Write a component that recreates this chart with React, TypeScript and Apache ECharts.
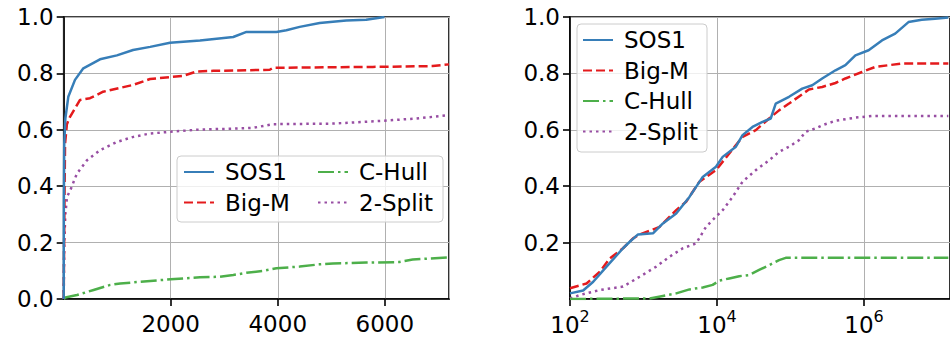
import React, { useEffect, useRef } from "react";
import * as echarts from "echarts";

const FONT = "'DejaVu Sans', sans-serif";
const seriesNames = ["SOS1", "Big-M", "C-Hull", "2-Split"];
const colors = ["#377eb8", "#e41a1c", "#4daf4a", "#984ea3"];

// Left panel: linear time axis
const linSOS1: [number, number][] = [
  [0, 0], [3, 0.35], [10, 0.55], [31, 0.64], [86, 0.717], [211, 0.777], [367, 0.818], [678, 0.85],
  [994, 0.864], [1296, 0.883], [1615, 0.894], [1987, 0.909], [2547, 0.917], [3168, 0.929],
  [3416, 0.947], [3975, 0.947], [4161, 0.953], [4410, 0.965], [4783, 0.979], [5280, 0.988],
  [5652, 0.99], [5994, 1.0],
];
const linBigM: [number, number][] = [
  [0, 0], [12, 0.3], [25, 0.55], [60, 0.62], [118, 0.646], [305, 0.706], [492, 0.712], [737, 0.735],
  [1296, 0.759], [1614, 0.78], [1987, 0.787], [2230, 0.791], [2486, 0.807], [2795, 0.809],
  [3168, 0.81], [3851, 0.813], [3913, 0.82], [5776, 0.823], [6894, 0.826], [7200, 0.832],
];
const linCHull: [number, number][] = [
  [0, 0], [31, 0.005], [248, 0.014], [559, 0.032], [870, 0.05], [1056, 0.055], [1429, 0.061],
  [2000, 0.07], [2547, 0.077], [2919, 0.079], [3168, 0.085], [3416, 0.093], [3727, 0.1],
  [3975, 0.109], [4410, 0.115], [4783, 0.123], [5031, 0.126], [5652, 0.129], [6273, 0.131],
  [6522, 0.14], [7200, 0.148],
];
const lin2Split: [number, number][] = [
  [0, 0], [10, 0.2], [31, 0.3], [62, 0.362], [124, 0.386], [248, 0.445], [435, 0.492], [683, 0.528],
  [994, 0.557], [1304, 0.575], [1615, 0.587], [2000, 0.593], [2547, 0.601], [3168, 0.604],
  [3540, 0.607], [3913, 0.62], [5031, 0.622], [5963, 0.632], [6584, 0.64], [7200, 0.652],
];

// Right panel: logarithmic axis
const logSOS1: [number, number][] = [
  [100, 0.02], [151, 0.03], [207, 0.061], [314, 0.115], [527, 0.18], [650, 0.203], [843, 0.229],
  [1346, 0.233], [1837, 0.268], [2786, 0.303], [4217, 0.362], [6397, 0.433], [9683, 0.469],
  [11940, 0.504], [18070, 0.54], [22280, 0.581], [30410, 0.61], [41590, 0.628], [53830, 0.64],
  [62950, 0.693], [95500, 0.717], [144500, 0.746], [197700, 0.758], [269800, 0.782],
  [409300, 0.811], [558500, 0.829], [763800, 0.864], [1156000, 0.882], [1754000, 0.917],
  [2655000, 0.941], [4027000, 0.982], [6109000, 0.99], [9247000, 0.994], [14030000, 0.998],
];
const logBigM: [number, number][] = [
  [100, 0.038], [168, 0.055], [255, 0.097], [348, 0.144], [527, 0.18], [721, 0.215], [888, 0.229],
  [1213, 0.242], [1656, 0.256], [2786, 0.315], [3802, 0.345], [5768, 0.416], [9683, 0.457],
  [14690, 0.516], [22280, 0.575], [33730, 0.599], [51170, 0.64], [69820, 0.669], [95500, 0.693],
  [178200, 0.743], [269800, 0.752], [409300, 0.766], [558500, 0.782], [939800, 0.805],
  [1422000, 0.823], [2158000, 0.829], [3273000, 0.835], [14030000, 0.835],
];
const logCHull: [number, number][] = [
  [100, 0.0], [1213, 0.002], [1837, 0.011], [2786, 0.02], [4217, 0.034], [6397, 0.041],
  [8730, 0.05], [10760, 0.065], [14690, 0.073], [20050, 0.081], [27400, 0.085], [37410, 0.103],
  [51170, 0.12], [69820, 0.138], [86100, 0.146], [14030000, 0.146],
];
const log2Split: [number, number][] = [
  [100, 0.002], [136, 0.014], [255, 0.032], [527, 0.044], [888, 0.079], [1493, 0.115],
  [2259, 0.15], [3428, 0.18], [5200, 0.197], [7096, 0.256], [9683, 0.292], [11940, 0.315],
  [16290, 0.362], [22280, 0.416], [33730, 0.457], [51170, 0.492], [69820, 0.522], [95500, 0.54],
  [130300, 0.563], [160300, 0.593], [219300, 0.605], [269800, 0.616], [409300, 0.632],
  [763800, 0.643], [1282000, 0.649], [14030000, 0.649],
];

const lineTypes: any[] = ["solid", [9, 4], [16, 4, 2.5, 4], [2.5, 4]];

export default function App() {
  const ref = useRef<HTMLDivElement>(null);
  useEffect(() => {
    if (!ref.current) return;
    const chart = echarts.init(ref.current, undefined, { renderer: "svg" });
    const axisCommon = {
      axisLine: { show: true, lineStyle: { color: "#000", width: 1.6 } },
      axisTick: { show: true, inside: false, length: 7, lineStyle: { color: "#000", width: 1.6 } },
      splitLine: { show: true, lineStyle: { color: "#b0b0b0", width: 1 } },
    };
    const labelStyle = { color: "#000", fontSize: 23, fontFamily: FONT };
    const mk = (name: string, idx: number, data: [number, number][], axis: number) => ({
      type: "line",
      name,
      data,
      xAxisIndex: axis,
      yAxisIndex: axis,
      symbol: "none",
      showSymbol: false,
      z: 10 - idx,
      lineStyle: { color: colors[idx], width: 2.5, type: lineTypes[idx] },
      itemStyle: { color: colors[idx] },
    });
    const legendCommon = {
      orient: "vertical",
      itemWidth: 30,
      itemHeight: 14,
      itemGap: 7.5,
      padding: 0,
      itemStyle: { opacity: 0 },
      textStyle: { color: "#000", fontSize: 23, fontFamily: FONT, padding: [0, 0, 0, 6] },
      selectedMode: false,
      z: 20,
    };
    chart.setOption({
      animation: false,
      backgroundColor: "#fff",
      grid: [
        { left: 63.7, top: 17, width: 385.3, height: 282, show: true, borderColor: "#000", borderWidth: 1.6, backgroundColor: "transparent" },
        { left: 570, top: 17, width: 382, height: 282, show: true, borderColor: "#000", borderWidth: 1.6, backgroundColor: "transparent" },
      ],
      xAxis: [
        {
          type: "value", gridIndex: 0, min: 0, max: 7200, interval: 2000, ...axisCommon,
          axisLabel: { ...labelStyle, margin: 13, showMinLabel: false, showMaxLabel: false, formatter: (v: number) => String(v) },
        },
        {
          type: "log", gridIndex: 1, logBase: 10, min: 100, max: Math.pow(10, 7.17), interval: 2, ...axisCommon,
          axisLabel: {
            margin: 9, showMaxLabel: false, color: "#000",
            formatter: (v: number) => {
              const l = Math.log10(v);
              const e = Math.round(l);
              if (Math.abs(l - e) > 1e-6 || e % 2 !== 0) return "";
              return `{b|10}{s|${e}}`;
            },
            rich: {
              b: { fontSize: 23, fontFamily: FONT, color: "#000", lineHeight: 28, verticalAlign: "bottom" },
              s: { fontSize: 16, fontFamily: FONT, color: "#000", lineHeight: 16, verticalAlign: "top" },
            },
          },
        },
      ],
      yAxis: [
        {
          type: "value", gridIndex: 0, min: 0, max: 1, interval: 0.2, ...axisCommon,
          axisLabel: { ...labelStyle, margin: 10, formatter: (v: number) => v.toFixed(1) },
        },
        {
          type: "value", gridIndex: 1, min: 0, max: 1, interval: 0.2, ...axisCommon,
          axisLabel: { ...labelStyle, margin: 10, showMinLabel: false, formatter: (v: number) => v.toFixed(1) },
        },
      ],
      legend: [
        { ...legendCommon, left: 183, top: 160.5, data: ["SOS1", "Big-M"] },
        { ...legendCommon, left: 317, top: 160.5, data: ["C-Hull", "2-Split"] },
        { ...legendCommon, left: 582, top: 28.5, data: seriesNames },
      ],
      graphic: [
        { type: "rect", z: 15, shape: { x: 177, y: 156, width: 266, height: 66, r: 4 }, style: { fill: "rgba(255,255,255,0.8)", stroke: "#cccccc", lineWidth: 1 } },
        { type: "rect", z: 15, shape: { x: 577, y: 24, width: 130, height: 128, r: 4 }, style: { fill: "rgba(255,255,255,0.8)", stroke: "#cccccc", lineWidth: 1 } },
      ],
      series: [
        mk("SOS1", 0, linSOS1, 0),
        mk("Big-M", 1, linBigM, 0),
        mk("C-Hull", 2, linCHull, 0),
        mk("2-Split", 3, lin2Split, 0),
        mk("SOS1", 0, logSOS1, 1),
        mk("Big-M", 1, logBigM, 1),
        mk("C-Hull", 2, logCHull, 1),
        mk("2-Split", 3, log2Split, 1),
      ],
    });
    return () => chart.dispose();
  }, []);
  return <div ref={ref} style={{ position: "absolute", left: 0, top: 0, width: 950, height: 340 }} />;
}
